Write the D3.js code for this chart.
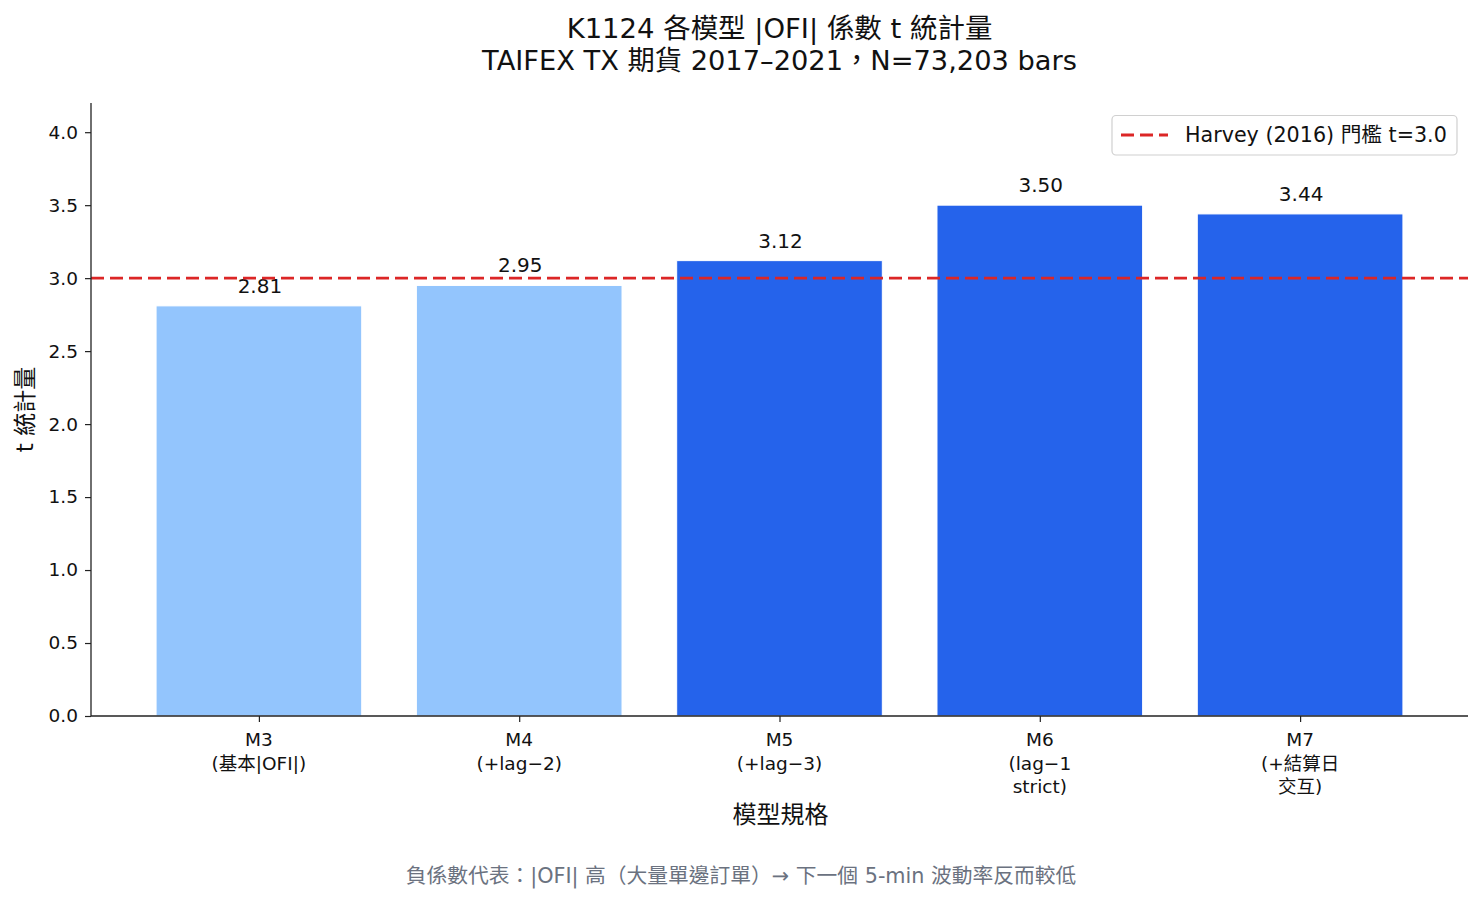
<!DOCTYPE html>
<html><head><meta charset="utf-8">
<script src="https://cdn.jsdelivr.net/npm/d3@7"></script>
<style>
body{margin:0;background:#fff;}
text{font-family:"DejaVu Sans","Noto Sans CJK TC",sans-serif;fill:#111;}
</style></head>
<body><svg id="c" width="1483" height="903"></svg>
<script>
const categories = [["M3","(基本|OFI|)"],["M4","(+lag−2)"],["M5","(+lag−3)"],["M6","(lag−1","strict)"],["M7","(+結算日","交互)"]];
const tValues = [2.81, 2.95, 3.12, 3.50, 3.44];
const barColors = ["#93c5fd","#93c5fd","#2563eb","#2563eb","#2563eb"];
const yTicks = [0,0.5,1.0,1.5,2.0,2.5,3.0,3.5,4.0];
const threshold = 3.0;
const titleLines = ["K1124 各模型 |OFI| 係數 t 統計量","TAIFEX TX 期貨 2017–2021，N=73,203 bars"];
const legendLabel = "Harvey (2016) 門檻 t=3.0";
const footnote = "負係數代表：|OFI| 高（大量單邊訂單）→ 下一個 5-min 波動率反而較低";

const FF = '"DejaVu Sans","Noto Sans CJK TC",sans-serif';
const svg = d3.select("#c");
const L=91,R=1468,T=103,B=716;
const x = d3.scaleLinear().domain([-0.645, 4.645]).range([L,R]);
const y = d3.scaleLinear().domain([0,4.2]).range([B,T]);
const bw = 0.79;

// bars
svg.append("g").selectAll("rect").data(tValues).join("rect")
  .attr("x",(d,i)=>x(i-bw/2)).attr("width",(d,i)=>x(i+bw/2)-x(i-bw/2))
  .attr("y",d=>y(d)).attr("height",d=>y(0)-y(d))
  .attr("fill",(d,i)=>barColors[i]).attr("stroke","#fff").attr("stroke-width",1);

// value labels
svg.append("g").selectAll("text").data(tValues).join("text")
  .attr("x",(d,i)=>x(i)+1).attr("y",d=>y(d)-13)
  .attr("text-anchor","middle").attr("font-size",20).text(d=>d.toFixed(2));

// threshold line
svg.append("line").attr("x1",L).attr("x2",R).attr("y1",y(threshold)).attr("y2",y(threshold))
  .attr("stroke","#dc2626").attr("stroke-width",2.8).attr("stroke-dasharray","13,6");

// y axis
const ya = svg.append("g").attr("transform",`translate(${L},0)`)
  .call(d3.axisLeft(y).tickValues(yTicks).tickFormat(d3.format(".1f")).tickSize(6).tickPadding(7));
ya.select(".domain").attr("d",`M0,${T}V${B}`).attr("stroke","#222").attr("stroke-width",1.3);
ya.selectAll(".tick line").attr("stroke","#222").attr("stroke-width",1.2);
ya.selectAll(".tick text").attr("font-size",18.5).attr("fill","#111").style("font-family",FF);

// x axis
const xa = svg.append("g").attr("transform",`translate(0,${B})`)
  .call(d3.axisBottom(x).tickValues(d3.range(categories.length)).tickFormat("").tickSize(6));
xa.select(".domain").attr("d",`M${L},0H${R}`).attr("stroke","#222").attr("stroke-width",1.3);
xa.selectAll(".tick line").attr("stroke","#222").attr("stroke-width",1.2);
const xl = svg.append("g");
categories.forEach((lines,i)=>{
  const t = xl.append("text").attr("x",x(i)).attr("y",746).attr("text-anchor","middle").attr("font-size",18.5);
  lines.forEach((s,j)=>t.append("tspan").attr("x",x(i)).attr("dy",j?23.5:0).text(s));
});

// axis labels
svg.append("text").attr("x",(L+R)/2+1).attr("y",823).attr("text-anchor","middle").attr("font-size",24).text("模型規格");
svg.append("text").attr("transform",`translate(33,${(T+B)/2}) rotate(-90)`).attr("text-anchor","middle").attr("font-size",23).text("t 統計量");

// helper: fit a text's font-size to a measured reference width
function fit(sel, w){ const n=sel.node(); const s=+sel.attr("font-size"); const cw=n.getComputedTextLength(); sel.attr("font-size", s*w/cw); }

// title
const titleW=[426,595];
titleLines.forEach((s,i)=>{ const t=svg.append("text").attr("x",(L+R)/2).attr("y",38+i*32).attr("text-anchor","middle").attr("font-size",25).text(s); fit(t,titleW[i]); });

// legend
const lg = svg.append("g");
lg.append("rect").attr("x",1112).attr("y",115.5).attr("width",345).attr("height",39.5).attr("rx",4)
  .attr("fill","#fff").attr("stroke","#d0d0d0").attr("stroke-width",1.2);
lg.append("line").attr("x1",1121).attr("x2",1168).attr("y1",135).attr("y2",135)
  .attr("stroke","#dc2626").attr("stroke-width",2.8).attr("stroke-dasharray","13,6");
fit(lg.append("text").attr("x",1185).attr("y",142).attr("font-size",19).text(legendLabel), 262);

// footnote
fit(svg.append("text").attr("x",741).attr("y",883).attr("text-anchor","middle").attr("font-size",18)
  .style("fill","#6b7280").text(footnote), 671);
</script></body></html>
